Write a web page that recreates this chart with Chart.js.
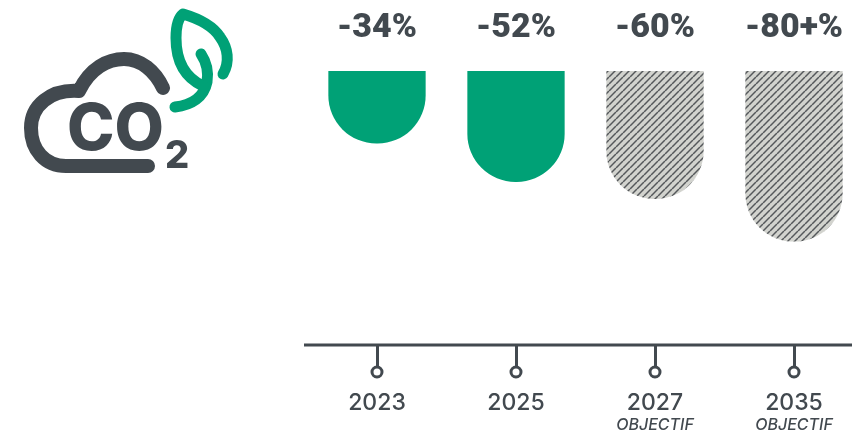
<!DOCTYPE html>
<html>
<head>
<meta charset="utf-8">
<script src="https://cdn.jsdelivr.net/npm/chart.js@4"></script>
<style>
    html, body { margin: 0; padding: 0; background: #fff; width: 852px; height: 435px; overflow: hidden; }
    #wrap { position: absolute; left: 0; top: 0; width: 864px; height: 435px; }
    #logo { position: absolute; left: 0; top: 0; }
</style>
</head>
<body>
<div id="wrap"><canvas id="co2Chart" width="864" height="435"></canvas></div>
<svg id="logo" width="260" height="190" viewBox="0 0 260 190">
    <path d="M148 166 H66 C45 166 31 150 31 128 C31 106 50 89 79 91 C90 68 108 59 124 59 C141 59 155 71 163 88" fill="none" stroke="#42494f" stroke-width="14" stroke-linecap="round" stroke-linejoin="round"/>
    <path d="M175 107 C192 105 204 97 207 82 C209 70 205 60 201 54" fill="none" stroke="#00a176" stroke-width="11" stroke-linecap="round"/>
    <path d="M203 86 C186 78 176 62 176 38 C176 28 178 18 183 14 C200 19 213 26 220 37 C228 48 230 62 223 74" fill="none" stroke="#00a176" stroke-width="11" stroke-linecap="round" stroke-linejoin="round"/>
    <text x="67" y="150" font-family="Inter, Lato" font-weight="800" font-size="64" fill="#42494f" letter-spacing="0">CO</text>
    <text x="165" y="168" font-family="Inter, Lato" font-weight="800" font-size="38" fill="#42494f">2</text>
</svg>
<script>
const years = ["2023", "2025", "2027", "2035"];
const reductions = [-34, -52, -60, -80];
const valueLabels = ["-34%", "-52%", "-60%", "-80+%"];
const subLabels = ["", "", "OBJECTIF", "OBJECTIF"];
const isTarget = [false, false, true, true];

const DARK = "#42494f";
const GREEN = "#00a176";

// hatch for the target bars
function makeHatch() {
    const size = 7;
    const c = document.createElement("canvas");
    c.width = size;
    c.height = size;
    const g = c.getContext("2d");
    g.fillStyle = "#d2d3ce";
    g.fillRect(0, 0, size, size);
    g.strokeStyle = "#55585b";
    g.lineWidth = 1.5;
    for (let i = -size; i <= size; i += size) {
        g.beginPath();
        g.moveTo(i, size);
        g.lineTo(i + size, 0);
        g.stroke();
    }
    return g.createPattern(c, "repeat");
}

// axis line, tick circles, percent labels and OBJECTIF text
const decorations = {
    id: "decorations",
    afterDraw(chart) {
        const ctx = chart.ctx;
        const x = chart.scales.x;
        const axisY = chart.chartArea.bottom;
        ctx.save();
        ctx.strokeStyle = DARK;
        ctx.lineWidth = 3;
        ctx.beginPath();
        ctx.moveTo(304, axisY);
        ctx.lineTo(864, axisY);
        ctx.stroke();

        years.forEach((y, i) => {
            const px = x.getPixelForValue(i);
            ctx.fillStyle = "#fff";
            ctx.strokeStyle = DARK;
            ctx.lineWidth = 3;
            ctx.beginPath();
            ctx.arc(px, axisY + 27, 5, 0, Math.PI * 2);
            ctx.fill();
            ctx.stroke();

            ctx.textAlign = "center";
            ctx.textBaseline = "middle";
            ctx.fillStyle = DARK;
            ctx.font = "900 34px Roboto";
            ctx.fillText(valueLabels[i], px, 28);

            if (subLabels[i]) {
                ctx.font = "italic 500 16px Inter";
                ctx.fillText(subLabels[i], px, 425);
            }
        });
        ctx.restore();
    }
};

new Chart(document.getElementById("co2Chart"), {
    type: "bar",
    data: {
        labels: years,
        datasets: [{
            data: reductions,
            backgroundColor: isTarget.map(t => t ? makeHatch() : GREEN),
            borderWidth: 0,
            borderRadius: 48,
            borderSkipped: "start",
            // base sits above the axis max so the radius is not capped on the short bar
            base: 30,
            barPercentage: 0.7,
            categoryPercentage: 1
        }]
    },
    options: {
        responsive: false,
        animation: false,
        devicePixelRatio: 1,
        layout: { padding: { top: 71, left: 307.5, right: 0.5, bottom: 0 } },
        plugins: { legend: { display: false }, tooltip: { enabled: false } },
        scales: {
            x: {
                position: "bottom",
                afterFit(s) { s.height = 90; },
                border: { display: false },
                grid: { display: true, drawOnChartArea: false, drawTicks: true, tickLength: 24, tickColor: DARK, tickWidth: 3, offset: false },
                ticks: { color: DARK, font: { family: "Inter", size: 23, weight: "500" }, padding: 20, maxRotation: 0 }
            },
            y: {
                display: false,
                min: -128.5,
                max: 0
            }
        }
    },
    plugins: [decorations]
});
</script>
</body>
</html>
